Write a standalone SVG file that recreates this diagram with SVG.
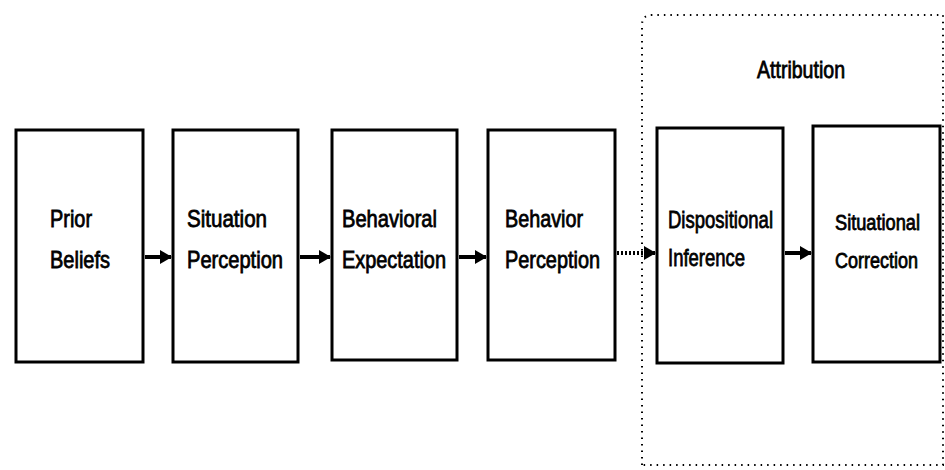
<svg xmlns="http://www.w3.org/2000/svg" width="945" height="470" viewBox="0 0 945 470">
<defs>
<marker id="ah" markerWidth="13" markerHeight="14" refX="11" refY="7" orient="auto" markerUnits="userSpaceOnUse">
<path d="M0,0 L12,7 L0,14 Z" fill="#000"/>
</marker>
<style>
.box{fill:#fff;stroke:#000;stroke-width:3}
.t{font-family:"Liberation Sans",Arial,sans-serif;font-size:24px;fill:#000;stroke:#000;stroke-width:0.8}
.s{font-size:22px}
.c{stroke:#000;stroke-width:4;fill:none}
.d{stroke:#000;stroke-width:4;fill:none;stroke-dasharray:2 2}
.grp{fill:none;stroke:#000;stroke-width:2;stroke-dasharray:1.5 5}
</style>
</defs>
<rect width="945" height="470" fill="#fff"/>
<g id="attribution-group">
<path class="grp" d="M642,465 L642,25 Q642,15 652,15 L943,15 L943,465 Z"/>
<text class="t" x="757" y="78" textLength="88" lengthAdjust="spacingAndGlyphs">Attribution</text>
</g>
<g id="prior-beliefs">
<rect class="box" x="16" y="130" width="127" height="232"/>
<text class="t" x="50" y="227" textLength="42" lengthAdjust="spacingAndGlyphs">Prior</text>
<text class="t" x="50" y="268" textLength="60" lengthAdjust="spacingAndGlyphs">Beliefs</text>
</g>
<g id="situation-perception">
<rect class="box" x="173" y="130" width="125" height="232"/>
<text class="t" x="187" y="227" textLength="80" lengthAdjust="spacingAndGlyphs">Situation</text>
<text class="t" x="187" y="268" textLength="96" lengthAdjust="spacingAndGlyphs">Perception</text>
</g>
<g id="behavioral-expectation">
<rect class="box" x="332" y="130" width="125" height="230"/>
<text class="t" x="342" y="227" textLength="95" lengthAdjust="spacingAndGlyphs">Behavioral</text>
<text class="t" x="342" y="268" textLength="104" lengthAdjust="spacingAndGlyphs">Expectation</text>
</g>
<g id="behavior-perception">
<rect class="box" x="488" y="130" width="127" height="230"/>
<text class="t" x="505" y="227" textLength="78" lengthAdjust="spacingAndGlyphs">Behavior</text>
<text class="t" x="505" y="268" textLength="95" lengthAdjust="spacingAndGlyphs">Perception</text>
</g>
<g id="dispositional-inference">
<rect class="box" x="657" y="128" width="126" height="235"/>
<text class="t" x="668" y="228" textLength="105" lengthAdjust="spacingAndGlyphs">Dispositional</text>
<text class="t" x="668" y="266" textLength="77" lengthAdjust="spacingAndGlyphs">Inference</text>
</g>
<g id="situational-correction">
<rect class="box" x="813" y="126" width="127" height="236"/>
<text class="t s" x="835" y="230" textLength="85" lengthAdjust="spacingAndGlyphs">Situational</text>
<text class="t s" x="835" y="268" textLength="83" lengthAdjust="spacingAndGlyphs">Correction</text>
</g>
<g id="connectors">
<line class="c" x1="145" y1="257" x2="171" y2="257" marker-end="url(#ah)"/>
<line class="c" x1="300" y1="257" x2="330" y2="257" marker-end="url(#ah)"/>
<line class="c" x1="459" y1="257" x2="486" y2="257" marker-end="url(#ah)"/>
<line class="d" x1="617" y1="253" x2="655" y2="253" marker-end="url(#ah)"/>
<line class="c" x1="785" y1="253" x2="811" y2="253" marker-end="url(#ah)"/>
</g>
</svg>
